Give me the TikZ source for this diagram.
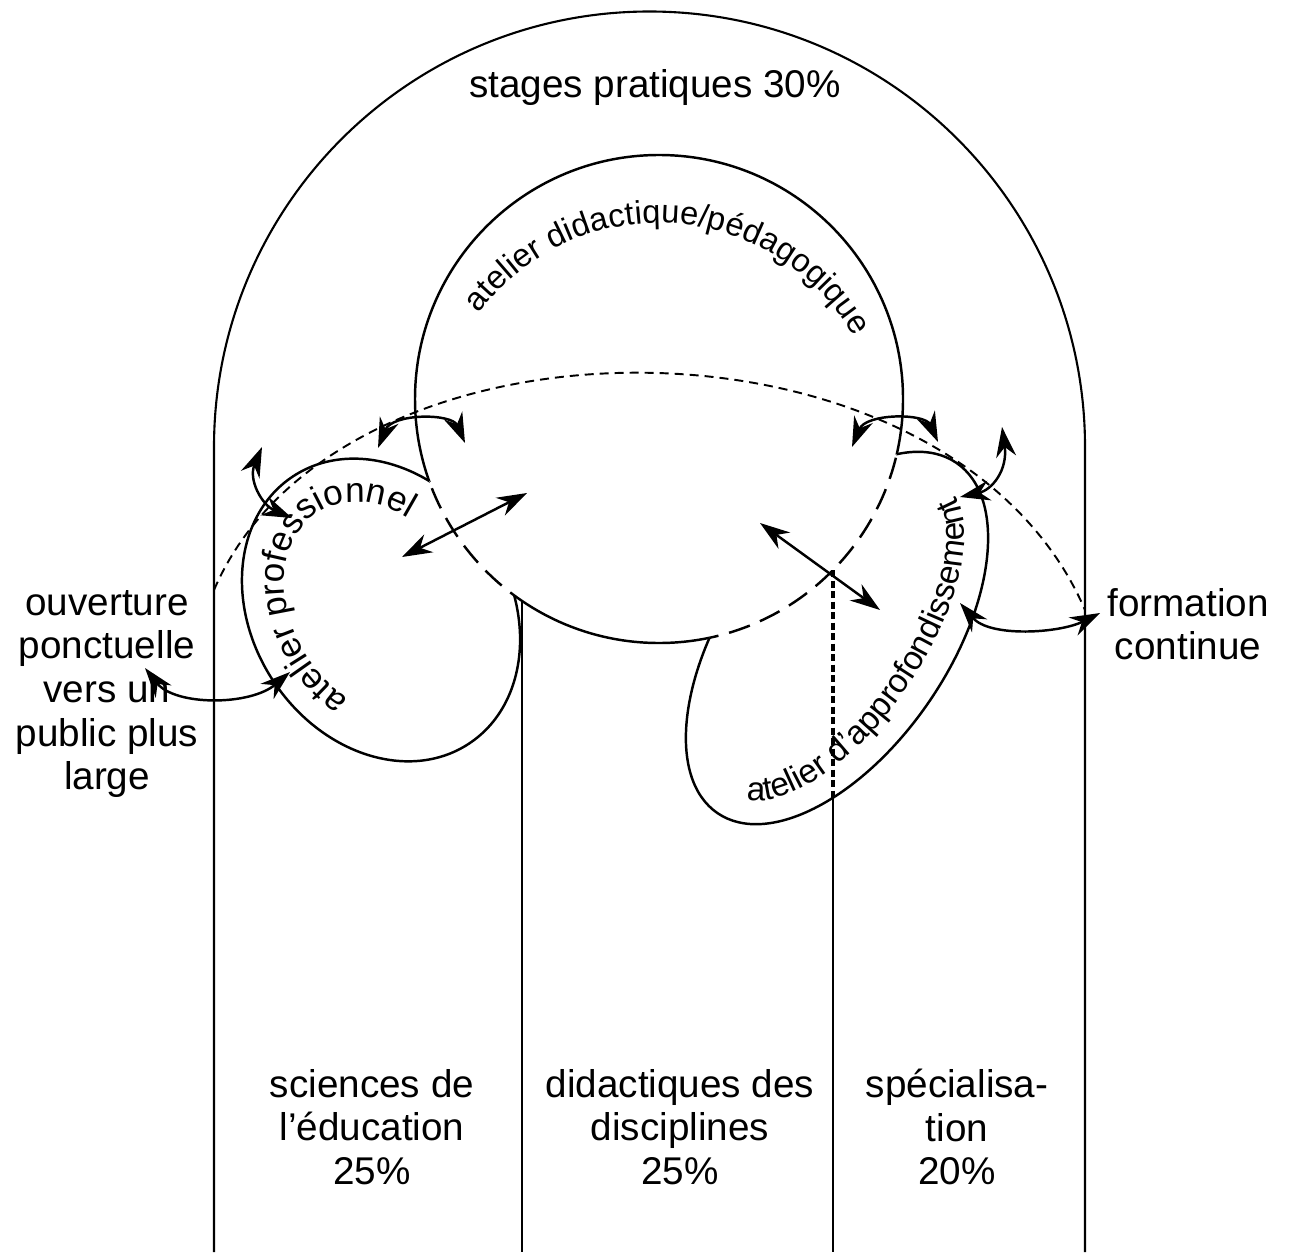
\documentclass[tikz,border=0pt]{standalone}
\usepackage{fontspec}
\setmainfont{Liberation Sans}
\usetikzlibrary{arrows.meta}
\usetikzlibrary{decorations.text}

% a large box, run clockwise, to clip away the inside of a shape
\newcommand\farbox{(-3000,3000) -- (4000,3000) -- (4000,-4000) -- (-3000,-4000) -- cycle}

\begin{document}
\begin{tikzpicture}[x=0.1mm, y=0.1mm,
    arch line/.style={line width=0.6pt},
    shape line/.style={line width=0.7pt},
    hidden line/.style={line width=0.7pt, dash pattern=on 2.2mm off 1.1mm},
    trace line/.style={line width=0.55pt, dash pattern=on 0.9mm off 0.6mm},
    cut line/.style={line width=1.1pt, dash pattern=on 0.7mm off 0.35mm},
    link arrow/.style={line width=0.7pt, {Stealth[length=3mm, width=2mm]}-{Stealth[length=3mm, width=2mm]}},
    block text/.style={align=center, inner sep=0pt, font=\fontsize{11}{12.4}\selectfont}]
  \useasboundingbox (0,0) rectangle (1290,-1252);

  % centres of the three workshops
  \coordinate (C) at (659,-399);
  \coordinate (L) at (381,-610);
  \coordinate (R) at (837,-638);

  % stages: arch and columns
  \draw[arch line] (214,-1252) -- (214,-447) arc[start angle=180, end angle=0, radius=435.5] -- (1085,-1252);
  \draw[arch line] (522,-601) -- (522,-1252);

  % side workshops, hidden behind the circle
  \begin{scope}
    \clip \farbox (903,-399) arc[start angle=0, end angle=360, radius=244];
    \draw[shape line, rotate around={-56.7:(L)}] (L) ellipse[x radius=160, y radius=129];
    \draw[shape line, rotate around={55.7:(R)}] (R) ellipse[x radius=212, y radius=112];
  \end{scope}
  \begin{scope}
    \clip[rotate around={-56.7:(L)}] \farbox (541,-610) arc[start angle=0, end angle=360, x radius=160, y radius=129];
    \clip[rotate around={55.7:(R)}] \farbox (1049,-638) arc[start angle=0, end angle=360, x radius=212, y radius=112];
    \draw[shape line] (C) circle[radius=244];
    \draw[arch line] (833,-570) -- (833,-1252);
  \end{scope}
  \begin{scope}
    \clip[rotate around={-56.7:(L)}] (L) ellipse[x radius=160, y radius=129];
    \draw[hidden line] (C) circle[radius=244];
  \end{scope}
  \begin{scope}
    \clip[rotate around={55.7:(R)}] (R) ellipse[x radius=212, y radius=112];
    \draw[hidden line] (C) circle[radius=244];
    \draw[cut line] (833,-570) -- (833,-1252);
  \end{scope}

  % formation continue line
  \draw[trace line] (214,-590) .. controls (340,-297) and (950,-297) .. (1085,-610);

  % workshop names
  \path[decorate, decoration={text along path, text align=center,
      text={|\fontsize{9.3}{11}\selectfont|atelier didactique/pédagogique}}]
    (659,-447) ++(176.5:224) arc[start angle=176.5, end angle=-3.5, radius=224];
  \path[rotate around={-56.7:(L)}, decorate, decoration={text along path, text align=left,
      text={|\fontsize{10}{12}\selectfont|atelier professionnel}}]
    (L) ++(-61:116 and 87) arc[start angle=-61, end angle=-300, x radius=116, y radius=87];
  \path[rotate around={55.7:(R)}, decorate, decoration={text along path, text align=left,
      text={|\fontsize{9.5}{12}\selectfont|atelier d'approfondissement}}]
    (R) ++(-169:188 and 86) arc[start angle=-169, end angle=40, x radius=188, y radius=86];

  % labels
  \node[block text] (stages) at (655,-88) {stages pratiques 30\%};
  \node[block text] (ouverture) at (107,-694) {ouverture\\ponctuelle\\vers un\\public plus\\large};
  \node[block text] (formation) at (1188,-624) {formation\\continue};
  \node[block text] (sciences) at (372,-1127) {sciences de\\l'éducation\\25\%};
  \node[block text] (didactiques) at (680,-1127) {didactiques des\\disciplines\\25\%};
  \node[block text] (specialisation) at (957,-1127) {spécialisa-\\tion\\20\%};

  % exchanges
  \coordinate (p1) at (262,-447); \coordinate (q1) at (292,-518);
  \coordinate (p2) at (378,-448); \coordinate (q2) at (465,-443);
  \coordinate (p3) at (402,-557); \coordinate (q3) at (527,-493);
  \coordinate (p4) at (145,-668); \coordinate (q4) at (290,-672);
  \coordinate (p5) at (852,-447); \coordinate (q5) at (938,-442);
  \coordinate (p6) at (1002,-427); \coordinate (q6) at (960,-497);
  \coordinate (p7) at (760,-523); \coordinate (q7) at (880,-610);
  \coordinate (p8) at (960,-603); \coordinate (q8) at (1100,-613);
  \draw[link arrow] (p1) .. controls +(-14,-33) and +(-30,13) .. (q1);
  \draw[link arrow] (p2) .. controls +(14,35) and +(-13,30) .. (q2);
  \draw[link arrow] (p3) -- (q3);
  \draw[link arrow] (p4) .. controls +(30,-38) and +(-40,-34) .. (q4);
  \draw[link arrow] (p5) .. controls +(14,34) and +(-13,29) .. (q5);
  \draw[link arrow] (p6) .. controls +(6,-43) and +(32,7) .. (q6);
  \draw[link arrow] (p7) -- (q7);
  \draw[link arrow] (p8) .. controls +(30,-35) and +(-40,-20) .. (q8);
\end{tikzpicture}
\end{document}
